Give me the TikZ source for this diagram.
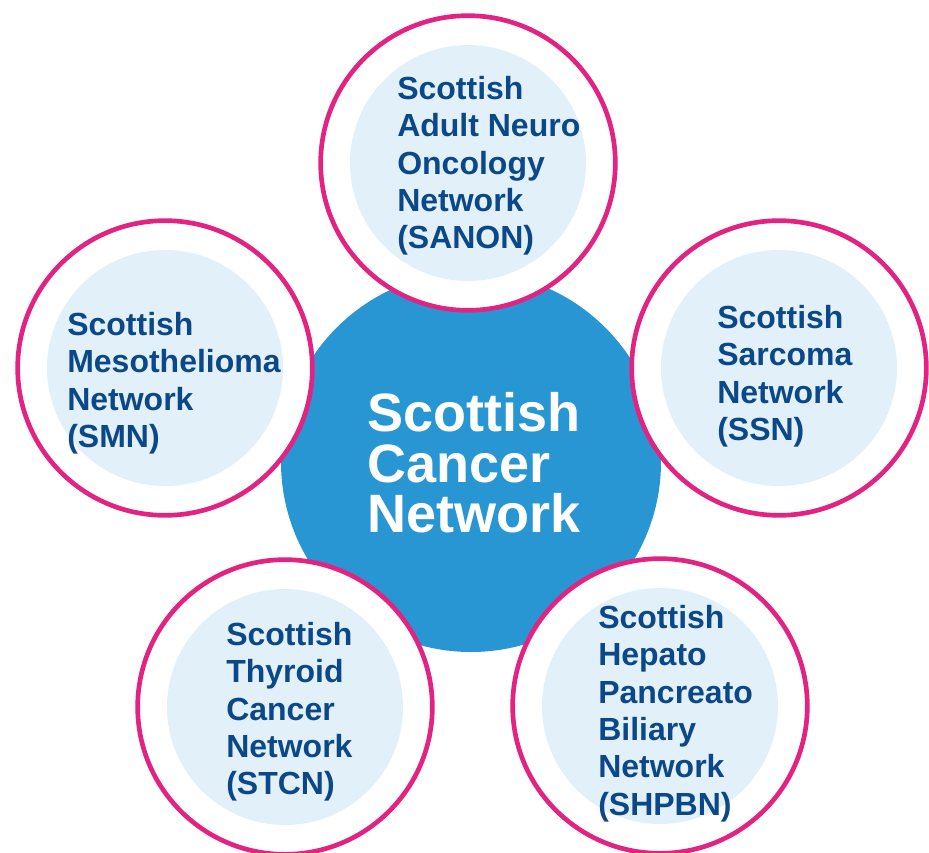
\documentclass[tikz,border=0pt]{standalone}
\usepackage{xcolor}
\usepackage{fontspec}
\setmainfont{Liberation Sans}
\usepackage{tikz}
\usetikzlibrary{positioning}
\definecolor{netblue}{RGB}{40,150,211}
\definecolor{netpink}{RGB}{226,35,130}
\definecolor{netpale}{RGB}{226,241,249}
\definecolor{netnavy}{RGB}{12,72,135}
\tikzset{
  hubdisc/.style={circle, fill=netblue, minimum size=285pt, inner sep=0pt},
  ringdisc/.style={circle, draw=netpink, fill=white, line width=3.5pt,
    minimum size=221pt, inner sep=0pt},
  paledisc/.style={circle, fill=netpale, minimum size=177pt, inner sep=0pt},
  nettext/.style={anchor=north west, align=left, inner sep=0pt, text=netnavy,
    font=\fontsize{24}{28}\selectfont\bfseries},
  hubtext/.style={anchor=north west, align=left, inner sep=0pt, text=white,
    font=\fontsize{40.5}{38}\selectfont\bfseries}
}

\begin{document}
\begin{tikzpicture}[x=0.75pt, y=-0.75pt]
  \useasboundingbox (0,0) rectangle (929,853);

  % central network
  \node[hubdisc] (hub) at (471,462) {};
  \node[hubtext] (hubtxt) at (367,392) {Scottish\\Cancer\\Network};

  % member networks
  \node[ringdisc] (sanon) at (468,163) {};
  \node[paledisc] at (sanon.center) {};
  \node[nettext] (sanontxt) at (397,76) {Scottish\\Adult Neuro\\Oncology\\Network\\(SANON)};

  \node[ringdisc] (smn) at (165,368) {};
  \node[paledisc] at (smn.center) {};
  \node[nettext] (smntxt) at (67,312) {Scottish\\Mesothelioma\\Network\\(SMN)};

  \node[ringdisc] (ssn) at (779,368) {};
  \node[paledisc] at (ssn.center) {};
  \node[nettext] (ssntxt) at (717,305) {Scottish\\Sarcoma\\Network\\(SSN)};

  \node[ringdisc] (stcn) at (285,707) {};
  \node[paledisc] at (stcn.center) {};
  \node[nettext] (stcntxt) at (226,622) {Scottish\\Thyroid\\Cancer\\Network\\(STCN)};

  \node[ringdisc] (shpbn) at (660,706) {};
  \node[paledisc] at (shpbn.center) {};
  \node[nettext] (shpbntxt) at (598,605) {Scottish\\Hepato\\Pancreato\\Biliary\\Network\\(SHPBN)};
\end{tikzpicture}
\end{document}
